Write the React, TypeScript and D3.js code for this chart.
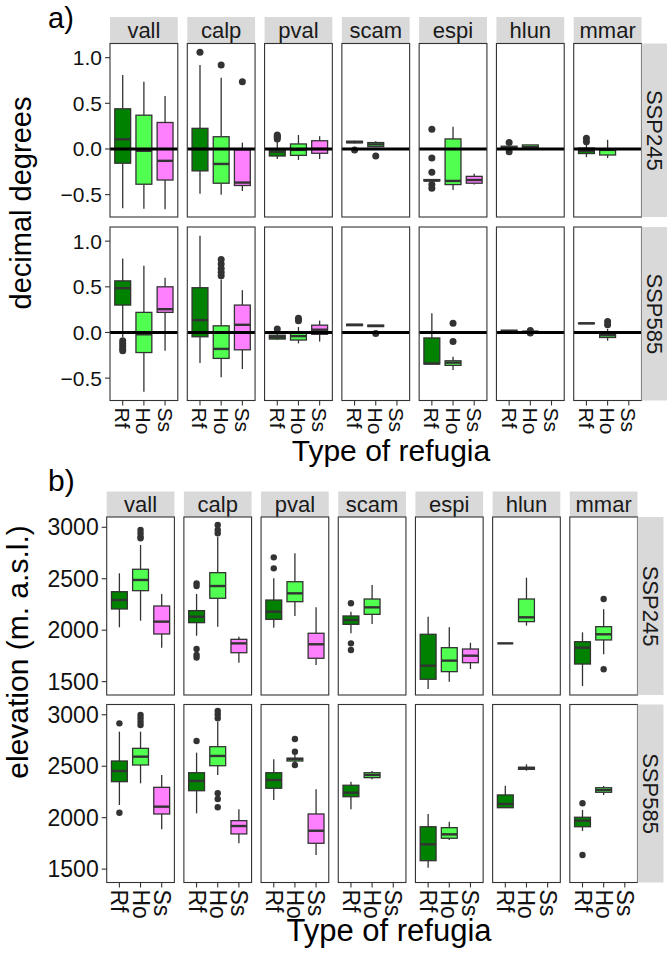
import React from "react";
import * as d3 from "d3";

// [species, refugia type, lower whisker, Q1, median, Q3, upper whisker, outliers]
type BoxRow = [string, string, number, number, number, number, number, number[]];

const species = ["vall", "calp", "pval", "scam", "espi", "hlun", "mmar"];
const scenarios = ["SSP245", "SSP585"];
const refugiaTypes = ["Rf", "Ho", "Ss"];

const shiftTicks = [-0.5, 0, 0.5, 1.0];
const elevTicks = [1500, 2000, 2500, 3000];

// a) latitudinal shift (decimal degrees)
const shiftSSP245: BoxRow[] = [
  ["vall", "Rf", -0.65, -0.156, 0.106, 0.44, 0.81, []],
  ["vall", "Ho", -0.656, -0.386, -0.02, 0.37, 0.735, []],
  ["vall", "Ss", -0.66, -0.34, -0.13, 0.29, 0.58, []],
  ["calp", "Rf", -0.49, -0.24, 0.0, 0.226, 0.92, [1.06]],
  ["calp", "Ho", -0.5, -0.375, -0.164, 0.134, 0.78, [0.92]],
  ["calp", "Ss", -0.46, -0.4, -0.368, -0.01, 0.07, [0.735]],
  ["pval", "Rf", -0.11, -0.077, -0.03, 0.0, 0.08, [0.11, 0.125, 0.14, 0.153]],
  ["pval", "Ho", -0.12, -0.07, -0.01, 0.055, 0.153, []],
  ["pval", "Ss", -0.11, -0.047, 0.0, 0.09, 0.14, []],
  ["scam", "Rf", 0.06, 0.068, 0.075, 0.085, 0.09, [-0.01]],
  ["scam", "Ho", 0.02, 0.025, 0.05, 0.07, 0.085, [-0.077]],
  ["espi", "Rf", -0.36, -0.35, -0.345, -0.335, -0.33, [0.215, -0.1, -0.255, -0.39, -0.43]],
  ["espi", "Ho", -0.45, -0.39, -0.35, 0.11, 0.244, []],
  ["espi", "Ss", -0.39, -0.375, -0.34, -0.3, -0.27, []],
  ["hlun", "Rf", 0.0, 0.0, 0.01, 0.03, 0.03, [0.07, -0.03]],
  ["hlun", "Ho", 0.0, 0.0, 0.02, 0.044, 0.044, []],
  ["mmar", "Rf", -0.09, -0.05, -0.02, 0.01, 0.05, [0.08, 0.117]],
  ["mmar", "Ho", -0.1, -0.066, -0.01, 0.0, 0.1, []],
];

const shiftSSP585: BoxRow[] = [
  ["vall", "Rf", -0.05, 0.3, 0.485, 0.565, 0.81, [-0.09, -0.12, -0.15, -0.18, -0.2]],
  ["vall", "Ho", -0.65, -0.22, -0.02, 0.22, 0.73, []],
  ["vall", "Ss", -0.2, 0.22, 0.255, 0.5, 0.6, []],
  ["calp", "Rf", -0.335, -0.047, 0.135, 0.49, 1.06, []],
  ["calp", "Ho", -0.49, -0.284, -0.18, 0.073, 0.58, [0.62, 0.66, 0.7, 0.75, 0.8]],
  ["calp", "Ss", -0.4, -0.19, 0.084, 0.3, 0.463, []],
  ["pval", "Rf", -0.08, -0.072, -0.05, -0.03, 0.0, [0.037]],
  ["pval", "Ho", -0.12, -0.083, -0.04, 0.0, 0.06, [0.127, 0.157]],
  ["pval", "Ss", -0.1, -0.02, 0.03, 0.08, 0.13, []],
  ["scam", "Rf", 0.072, 0.075, 0.083, 0.09, 0.093, []],
  ["scam", "Ho", 0.062, 0.065, 0.072, 0.08, 0.083, [-0.01]],
  ["espi", "Rf", -0.35, -0.345, -0.34, -0.06, 0.21, []],
  ["espi", "Ho", -0.41, -0.36, -0.33, -0.31, -0.265, [0.1, -0.1]],
  ["hlun", "Rf", 0.0, 0.0, 0.015, 0.025, 0.025, []],
  ["hlun", "Ho", 0.003, 0.005, 0.008, 0.012, 0.015, [0.022, -0.006]],
  ["mmar", "Rf", 0.095, 0.097, 0.1, 0.103, 0.105, []],
  ["mmar", "Ho", -0.09, -0.055, -0.03, 0.0, 0.04, [0.085, 0.12]],
];

// b) elevation (m a.s.l.)
const elevSSP245: BoxRow[] = [
  ["vall", "Rf", 2028, 2206, 2293, 2374, 2553, []],
  ["vall", "Ho", 2092, 2384, 2488, 2592, 2828, [2893, 2909, 2941, 2974]],
  ["vall", "Ss", 1830, 1963, 2083, 2235, 2352, []],
  ["calp", "Rf", 1946, 2073, 2131, 2190, 2352, [2429, 2455, 1817, 1760, 1734]],
  ["calp", "Ho", 2034, 2310, 2429, 2559, 2909, [2941, 2974, 3022]],
  ["calp", "Ss", 1684, 1781, 1872, 1911, 1937, []],
  ["pval", "Rf", 2024, 2105, 2180, 2293, 2504, [2601, 2708]],
  ["pval", "Ho", 2138, 2277, 2358, 2471, 2747, []],
  ["pval", "Ss", 1662, 1727, 1863, 1970, 2222, []],
  ["scam", "Rf", 1970, 2057, 2099, 2138, 2180, [2261, 1872, 1807]],
  ["scam", "Ho", 2060, 2154, 2222, 2303, 2439, []],
  ["espi", "Rf", 1429, 1523, 1655, 1960, 2131, []],
  ["espi", "Ho", 1499, 1597, 1704, 1830, 2028, []],
  ["espi", "Ss", 1623, 1684, 1752, 1817, 1878, []],
  ["hlun", "Rf", 1872, 1872, 1872, 1872, 1872, []],
  ["hlun", "Ho", 2044, 2083, 2125, 2303, 2510, []],
  ["mmar", "Rf", 1457, 1671, 1830, 1888, 1979, []],
  ["mmar", "Ho", 1766, 1905, 1960, 2034, 2203, [2303, 1620]],
];

const elevSSP585: BoxRow[] = [
  ["vall", "Rf", 2123, 2350, 2454, 2551, 2836, [2917, 2048]],
  ["vall", "Ho", 2334, 2512, 2593, 2674, 2836, [2901, 2933, 2966, 2998]],
  ["vall", "Ss", 1887, 2036, 2107, 2295, 2415, []],
  ["calp", "Rf", 2042, 2262, 2357, 2437, 2632, [2745]],
  ["calp", "Ho", 2415, 2505, 2600, 2690, 2933, [2966, 3004, 3037, 2237, 2182, 2101]],
  ["calp", "Ss", 1751, 1842, 1919, 1971, 2081, []],
  ["pval", "Rf", 2172, 2286, 2366, 2437, 2567, []],
  ["pval", "Ho", 2535, 2551, 2570, 2578, 2609, [2641, 2765, 2512]],
  ["pval", "Ss", 1637, 1751, 1873, 2036, 2276, []],
  ["scam", "Rf", 2081, 2204, 2243, 2315, 2350, []],
  ["scam", "Ho", 2373, 2389, 2415, 2437, 2454, []],
  ["espi", "Rf", 1514, 1582, 1741, 1912, 2036, []],
  ["espi", "Ho", 1783, 1800, 1838, 1903, 1961, []],
  ["hlun", "Rf", 2097, 2097, 2133, 2221, 2311, []],
  ["hlun", "Ho", 2457, 2470, 2482, 2490, 2519, []],
  ["mmar", "Rf", 1871, 1912, 1971, 2004, 2075, [2140, 1637]],
  ["mmar", "Ho", 2221, 2247, 2269, 2291, 2308, []],
];

const FONT = "'Liberation Sans', Arial, Helvetica, sans-serif";
const fills: Record<string, string> = { Rf: "#008200", Ho: "#50FF50", Ss: "#FF80FF" };
const INK = "#333333";

interface BlockSpec {
  tag: string;
  tagX: number;
  tagY: number;
  rows: BoxRow[][];
  ticks: number[];
  fmt: (v: number) => string;
  yDomain: [number, number];
  left: number;
  right: number;
  rowTops: number[];
  rowH: number;
  stripTop: number;
  stripH: number;
  sideW: number;
  tickFont: number;
  stripFont: number;
  titleFont: number;
  yTitle: string;
  yTitleX: number;
  yTitleY: number;
  xTitleX: number;
  xTitleY: number;
  zeroLine: boolean;
  pointR: number;
}

function FacetBlock({ s }: { s: BlockSpec }) {
  const colScale = d3
    .scaleBand<string>()
    .domain(species)
    .range([s.left, s.right])
    .paddingInner(0.123)
    .paddingOuter(0);
  const bw = colScale.bandwidth();
  const typeScale = d3.scalePoint<string>().domain(refugiaTypes).range([0, bw]).padding(0.6);
  const boxW = typeScale.step() * 0.75;
  const bottomRow = s.rowTops.length - 1;

  return (
    <g>
      <text x={s.tagX} y={s.tagY} fontSize={s.titleFont} fontFamily={FONT} fill="#000">
        {s.tag}
      </text>

      {/* column strips */}
      {species.map((sp) => (
        <g key={"strip-" + sp}>
          <rect x={colScale(sp)} y={s.stripTop} width={bw} height={s.stripH} fill="#D9D9D9" />
          <text
            x={(colScale(sp) as number) + bw / 2}
            y={s.stripTop + s.stripH / 2}
            textAnchor="middle"
            dominantBaseline="central"
            fontSize={s.stripFont}
            fontFamily={FONT}
            fill="#1A1A1A"
          >
            {sp}
          </text>
        </g>
      ))}

      {s.rows.map((rowData, ri) => {
        const top = s.rowTops[ri];
        const y = d3.scaleLinear().domain(s.yDomain).range([top + s.rowH, top]);
        return (
          <g key={"row-" + ri}>
            {species.map((sp) => {
              const x0 = colScale(sp) as number;
              const boxes = rowData.filter((r) => r[0] === sp);
              return (
                <g key={sp}>
                  <rect x={x0} y={top} width={bw} height={s.rowH} fill="#fff" />
                  {boxes.map((b) => {
                    const [, t, lo, q1, med, q3, hi, out] = b;
                    const cx = x0 + (typeScale(t) as number);
                    return (
                      <g key={t}>
                        <line x1={cx} x2={cx} y1={y(hi)} y2={y(q3)} stroke={INK} strokeWidth={1.3} />
                        <line x1={cx} x2={cx} y1={y(q1)} y2={y(lo)} stroke={INK} strokeWidth={1.3} />
                        <rect
                          x={cx - boxW / 2}
                          y={y(q3)}
                          width={boxW}
                          height={Math.max(0, y(q1) - y(q3))}
                          fill={fills[t]}
                          stroke={INK}
                          strokeWidth={1.3}
                        />
                        <line
                          x1={cx - boxW / 2}
                          x2={cx + boxW / 2}
                          y1={y(med)}
                          y2={y(med)}
                          stroke={INK}
                          strokeWidth={2.4}
                        />
                        {out.map((o, oi) => (
                          <circle key={oi} cx={cx} cy={y(o)} r={s.pointR} fill={INK} />
                        ))}
                      </g>
                    );
                  })}
                  {s.zeroLine && (
                    <line x1={x0} x2={x0 + bw} y1={y(0)} y2={y(0)} stroke="#000" strokeWidth={3} />
                  )}
                  <rect
                    x={x0}
                    y={top}
                    width={bw}
                    height={s.rowH}
                    fill="none"
                    stroke={INK}
                    strokeWidth={1.1}
                  />
                  {ri === bottomRow &&
                    refugiaTypes.map((t) => {
                      const tx = x0 + (typeScale(t) as number);
                      const by = top + s.rowH;
                      return (
                        <g key={"xt-" + t}>
                          <line x1={tx} x2={tx} y1={by} y2={by + 5} stroke={INK} strokeWidth={1.1} />
                          <text
                            transform={`translate(${tx},${by + 7}) rotate(90)`}
                            dominantBaseline="central"
                            textAnchor="start"
                            fontSize={s.tickFont}
                            fontFamily={FONT}
                            fill="#111"
                          >
                            {t}
                          </text>
                        </g>
                      );
                    })}
                </g>
              );
            })}

            {/* y axis */}
            {s.ticks.map((tv) => (
              <g key={"yt-" + tv}>
                <line x1={s.left - 5} x2={s.left} y1={y(tv)} y2={y(tv)} stroke={INK} strokeWidth={1.1} />
                <text
                  x={s.left - 8}
                  y={y(tv)}
                  textAnchor="end"
                  dominantBaseline="central"
                  fontSize={s.tickFont}
                  fontFamily={FONT}
                  fill="#111"
                >
                  {s.fmt(tv)}
                </text>
              </g>
            ))}

            {/* row strip */}
            <rect x={s.right} y={top} width={s.sideW} height={s.rowH} fill="#D9D9D9" />
            <text
              transform={`translate(${s.right + s.sideW / 2},${top + s.rowH / 2}) rotate(90)`}
              textAnchor="middle"
              dominantBaseline="central"
              fontSize={s.stripFont}
              fontFamily={FONT}
              fill="#1A1A1A"
            >
              {scenarios[ri]}
            </text>
          </g>
        );
      })}

      <text
        transform={`translate(${s.yTitleX},${s.yTitleY}) rotate(-90)`}
        textAnchor="middle"
        fontSize={s.titleFont}
        fontFamily={FONT}
        fill="#000"
      >
        {s.yTitle}
      </text>
      <text x={s.xTitleX} y={s.xTitleY} textAnchor="middle" fontSize={s.titleFont + 1} fontFamily={FONT} fill="#000">
        Type of refugia
      </text>
    </g>
  );
}

export default function App() {
  const blockA: BlockSpec = {
    tag: "a)",
    tagX: 48,
    tagY: 28,
    rows: [shiftSSP245, shiftSSP585],
    ticks: shiftTicks,
    fmt: d3.format(".1f"),
    yDomain: [-0.745, 1.155],
    left: 110,
    right: 641.5,
    rowTops: [43.5, 227],
    rowH: 173.5,
    stripTop: 17,
    stripH: 26.5,
    sideW: 25.5,
    tickFont: 21,
    stripFont: 22,
    titleFont: 29,
    yTitle: "decimal degrees",
    yTitleX: 31,
    yTitleY: 203,
    xTitleX: 391,
    xTitleY: 461,
    zeroLine: true,
    pointR: 3.5,
  };
  const blockB: BlockSpec = {
    tag: "b)",
    tagX: 48,
    tagY: 491,
    rows: [elevSSP245, elevSSP585],
    ticks: elevTicks,
    fmt: d3.format("d"),
    yDomain: [1370, 3100],
    left: 106.7,
    right: 637.5,
    rowTops: [517, 704.5],
    rowH: 178,
    stripTop: 491.5,
    stripH: 25.5,
    sideW: 26,
    tickFont: 23,
    stripFont: 22,
    titleFont: 30,
    yTitle: "elevation (m. a.s.l.)",
    yTitleX: 28,
    yTitleY: 652,
    xTitleX: 389,
    xTitleY: 941,
    zeroLine: false,
    pointR: 3.2,
  };
  return (
    <svg
      width={669}
      height={958}
      viewBox="0 0 669 958"
      style={{ position: "absolute", left: 0, top: 0, background: "#fff" }}
    >
      <rect width={669} height={958} fill="#fff" />
      <FacetBlock s={blockA} />
      <FacetBlock s={blockB} />
    </svg>
  );
}
